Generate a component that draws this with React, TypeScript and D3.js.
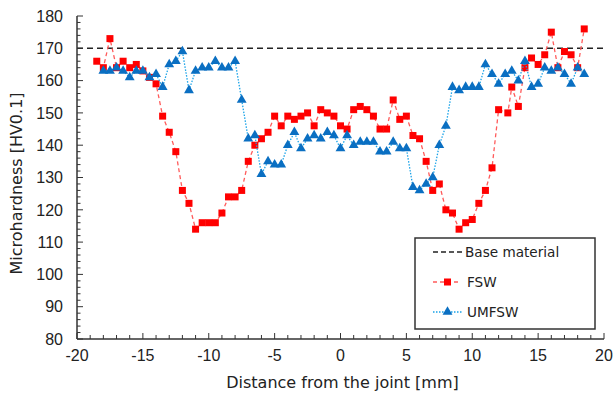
import React from 'react';
import * as d3 from 'd3';

// distance from the joint [mm]
const fswX = [-18.5, -18, -17.5, -17, -16.5, -16, -15.5, -15, -14.5, -14, -13.5, -13, -12.5, -12, -11.5, -11, -10.5, -10, -9.5, -9,
  -8.5, -8, -7.5, -7, -6.5, -6, -5.5, -5, -4.5, -4, -3.5, -3, -2.5, -2, -1.5, -1, -0.5, 0, 0.5, 1,
  1.5, 2, 2.5, 3, 3.5, 4, 4.5, 5, 5.5, 6, 6.5, 7, 7.5, 8, 8.5, 9, 9.5, 10, 10.5, 11,
  11.5, 12, 12.7, 13, 13.5, 14, 14.5, 15, 15.5, 16, 16.5, 17, 17.5, 18, 18.5];
const fswY = [166, 164, 173, 164, 166, 164, 165, 163, 161, 159, 149, 144, 138, 126, 122, 114, 116, 116, 116, 119,
  124, 124, 126, 135, 140, 142, 144, 149, 146, 149, 148, 149, 150, 146, 151, 150, 149, 146, 145, 151,
  152, 151, 149, 145, 145, 154, 148, 149, 143, 142, 135, 126, 128, 120, 119, 114, 116, 117, 122, 126,
  133, 151, 150, 158, 152, 164, 167, 165, 168, 175, 164, 169, 168, 164, 176];

const umfswX = [-18, -17.5, -17, -16.5, -16, -15.5, -15, -14.5, -14, -13.5, -13, -12.5, -12, -11.5, -11, -10.5, -10, -9.5, -9,
  -8.5, -8, -7.5, -7, -6.5, -6, -5.5, -5, -4.5, -4, -3.5, -3, -2.5, -2, -1.5, -1, -0.5, 0, 0.5, 1,
  1.5, 2, 2.5, 3, 3.5, 4, 4.5, 5, 5.5, 6, 6.5, 7, 7.5, 8, 8.5, 9, 9.5, 10, 10.5, 11,
  11.5, 12, 12.5, 13, 13.5, 14, 14.5, 15, 15.5, 16, 16.5, 17, 17.5, 18, 18.5];
const umfswY = [163, 163, 164, 163, 161, 163, 163, 161, 162, 158, 165, 166, 169, 157, 163, 164, 164, 166, 164,
  164, 166, 154, 142, 143, 131, 135, 134, 134, 140, 144, 139, 142, 143, 142, 144, 143, 139, 143, 140,
  141, 141, 141, 138, 138, 141, 139, 139, 127, 126, 128, 130, 140, 146, 158, 157, 158, 158, 158, 165,
  162, 159, 162, 163, 160, 166, 158, 159, 164, 163, 164, 162, 159, 164, 162];

const baseMaterial = 170;
const xTicks = [-20, -15, -10, -5, 0, 5, 10, 15, 20];
const yTicks = [80, 90, 100, 110, 120, 130, 140, 150, 160, 170, 180];
const legendLabels = ['Base material', 'FSW', 'UMFSW'];

const W = 614, H = 397;
const left = 77, right = 604, top = 16, bottom = 339;

export default function App() {
  const x = d3.scaleLinear().domain([-20, 20]).range([left, right]);
  const y = d3.scaleLinear().domain([80, 180]).range([bottom, top]);

  const fsw = fswX.map((d, i) => [d, fswY[i]] as [number, number]);
  const umfsw = umfswX.map((d, i) => [d, umfswY[i]] as [number, number]);
  const line = d3.line<[number, number]>().x(d => x(d[0])).y(d => y(d[1]));

  const tri = d3.symbol().type(d3.symbolTriangle).size(42)();
  const axisCol = '#333';
  const titleFont = '"DejaVu Sans", Verdana, sans-serif';
  const tickFont = '"Liberation Sans", Arial, sans-serif';

  const minorX = d3.range(-20, 20.001, 1);
  const minorY = d3.range(80, 180.001, 2);

  const lx = 415, ly = 238, lw = 180, lh = 91;
  const rows = [252, 282, 312];

  return (
    <svg width={W} height={H} style={{ position: 'absolute', left: 0, top: 0, background: '#fff' }}>
      {/* base material reference */}
      <line x1={left} x2={606} y1={y(baseMaterial)} y2={y(baseMaterial)} stroke="#222" strokeWidth={1.5} strokeDasharray="6,4" />

      {/* axes */}
      <line x1={left} x2={left} y1={top} y2={bottom} stroke={axisCol} strokeWidth={1.5} />
      <line x1={left} x2={right} y1={bottom} y2={bottom} stroke={axisCol} strokeWidth={1.5} />
      {minorY.map(v => (
        <line key={'my' + v} x1={left} x2={left + (v % 10 === 0 ? 6 : 3.5)} y1={y(v)} y2={y(v)} stroke={axisCol} strokeWidth={1} />
      ))}
      {minorX.map(v => (
        <line key={'mx' + v} x1={x(v)} x2={x(v)} y1={bottom} y2={bottom - (v % 5 === 0 ? 6 : 4)} stroke={axisCol} strokeWidth={1} />
      ))}
      {yTicks.map(v => (
        <text key={'yt' + v} x={left - 14} y={y(v)} dy="0.36em" textAnchor="end" fontFamily={tickFont} fontSize={16} fill="#222">{v}</text>
      ))}
      {xTicks.map(v => (
        <text key={'xt' + v} x={x(v)} y={bottom + 22} textAnchor="middle" fontFamily={tickFont} fontSize={16} fill="#222">{v}</text>
      ))}
      <text x={(left + right) / 2 + 2} y={388} textAnchor="middle" fontFamily={titleFont} fontSize={16} fill="#222">Distance from the joint [mm]</text>
      <text transform={`translate(22,${(top + bottom) / 2 + 6}) rotate(-90)`} textAnchor="middle" fontFamily={titleFont} fontSize={16} fill="#222">Microhardness [HV0.1]</text>

      {/* FSW */}
      <path d={line(fsw) ?? ''} fill="none" stroke="#ff5b5b" strokeWidth={1.3} strokeDasharray="4,3" />
      {fsw.map((d, i) => (
        <rect key={'f' + i} x={x(d[0]) - 3.5} y={y(d[1]) - 3.5} width={7} height={7} fill="#ff0000" />
      ))}

      {/* UMFSW */}
      <path d={line(umfsw) ?? ''} fill="none" stroke="#1aa3e8" strokeWidth={1.3} strokeDasharray="1.5,1.5" />
      {umfsw.map((d, i) => (
        <path key={'u' + i} d={tri ?? ''} transform={`translate(${x(d[0])},${y(d[1])})`} fill="#0a6fc2" />
      ))}

      {/* legend */}
      <rect x={lx} y={ly} width={lw} height={lh} fill="#fff" stroke="#333" strokeWidth={1.5} />
      <line x1={433} x2={463} y1={rows[0]} y2={rows[0]} stroke="#222" strokeWidth={1.5} strokeDasharray="5,3" />
      <line x1={433} x2={461} y1={rows[1]} y2={rows[1]} stroke="#ff5b5b" strokeWidth={1.3} strokeDasharray="4,3" />
      <rect x={447.5 - 3.5} y={rows[1] - 3.5} width={7} height={7} fill="#ff0000" />
      <line x1={433} x2={462} y1={rows[2]} y2={rows[2]} stroke="#1aa3e8" strokeWidth={1.3} strokeDasharray="1.5,1.5" />
      <path d={tri ?? ''} transform={`translate(447.5,${rows[2]})`} fill="#0a6fc2" />
      {legendLabels.map((t, i) => (
        <text key={t} x={i === 0 ? 465 : 467} y={rows[i]} dy="0.36em" fontFamily={titleFont} fontSize={13.6} fill="#222">{t}</text>
      ))}
    </svg>
  );
}
